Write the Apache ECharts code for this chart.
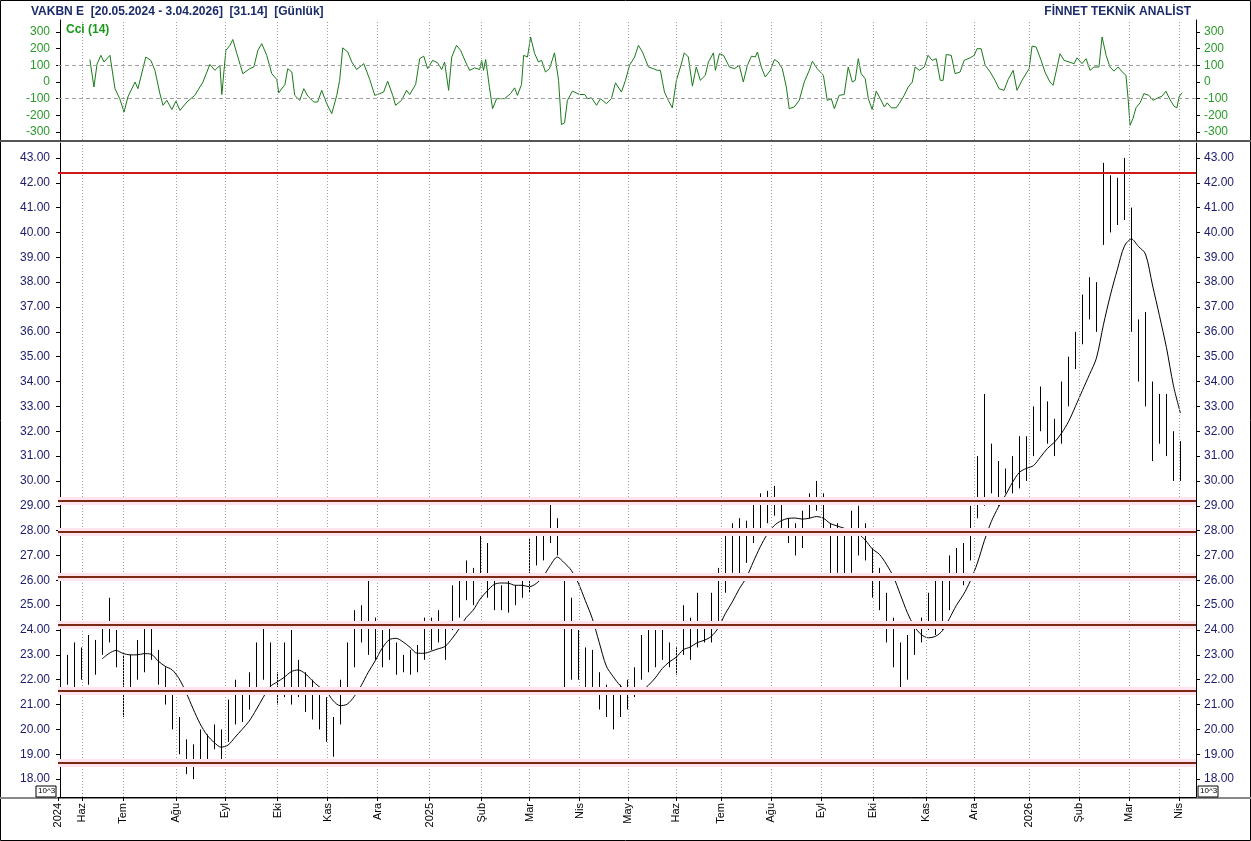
<!DOCTYPE html>
<html><head><meta charset="utf-8">
<script src="https://cdn.jsdelivr.net/npm/echarts@6/dist/echarts.min.js"></script>
<style>html,body{margin:0;padding:0;background:#fff}#c{width:1251px;height:841px}</style>
</head><body><div id="c"></div>
<script>
// ---- DATA ----
const title = 'VAKBN E  [20.05.2024 - 3.04.2026]  [31.14]  [Günlük]';
const brand = 'FİNNET TEKNİK ANALİST';
const barStepDays = 2.93; // bars sampled roughly every 3 trading days
const lows = [22.0,21.8,21.7,22.0,21.8,22.2,23.0,23.5,22.5,20.5,21.5,22.0,22.3,22.8,21.8,21.0,20.0,19.0,18.2,18.0,18.5,18.8,19.2,18.8,19.5,20.2,20.3,20.8,21.5,22.0,21.5,21.0,21.3,21.0,21.3,20.7,20.4,20.0,19.5,18.9,20.2,21.4,22.5,23.5,23.0,22.8,22.5,22.8,22.2,22.3,22.2,22.3,22.8,23.2,23.5,22.8,24.0,24.5,25.2,25.0,26.0,25.3,24.8,24.8,24.7,25.0,25.3,25.5,26.6,26.8,27.5,27.0,21.6,22.0,22.0,21.5,21.5,20.8,20.5,20.0,20.5,20.8,21.3,22.0,22.3,22.5,22.8,22.5,22.2,23.0,22.8,23.3,23.5,23.5,24.3,25.5,26.3,26.2,26.7,27.5,28.0,28.3,28.6,28.0,27.5,27.0,27.3,28.5,28.8,28.0,26.0,26.3,26.0,26.3,27.0,26.8,25.3,24.8,23.5,22.5,21.5,22.0,23.0,23.5,24.0,23.8,24.0,24.8,26.0,25.8,26.8,28.5,29.0,29.5,29.0,29.5,29.5,29.7,30.0,31.0,32.0,31.5,31.0,31.5,33.0,34.5,35.5,36.5,36.0,39.5,40.0,40.3,40.5,36.0,34.0,33.0,30.8,31.5,31.0,30.0,30.0];
const highs = [23.7,23.0,23.5,23.3,23.8,23.6,24.3,25.3,24.0,23.0,23.0,23.6,24.2,24.2,23.2,22.5,21.5,20.5,19.6,19.4,20.0,19.8,20.2,20.0,21.2,22.0,21.5,22.3,23.5,24.3,23.5,22.3,23.5,24.0,22.8,22.3,22.0,21.5,21.3,20.5,22.0,23.5,24.8,25.0,26.0,24.5,24.0,24.2,23.5,23.0,23.2,23.4,24.5,24.5,24.8,24.3,25.8,26.3,26.8,26.5,28.0,27.5,26.0,25.8,26.0,25.8,26.2,27.7,28.0,28.0,29.2,28.5,26.0,25.3,24.0,23.3,23.2,22.3,21.8,21.5,21.8,22.0,22.5,23.8,24.0,24.0,24.0,23.5,23.3,25.0,24.5,25.5,24.3,25.5,26.5,28.0,28.3,28.5,28.4,29.2,29.5,29.6,29.8,29.3,28.5,28.3,28.8,29.5,30.0,29.5,28.3,28.3,28.0,28.8,29.0,28.3,27.3,26.5,25.5,24.5,23.5,23.8,24.3,24.5,25.5,26.0,26.2,27.0,27.3,27.5,29.0,31.0,33.5,31.5,30.8,30.5,31.0,31.8,31.8,33.0,33.8,33.2,32.5,34.0,35.0,36.0,37.5,38.2,38.0,42.8,42.3,42.2,43.0,41.0,36.5,36.8,34.0,33.5,33.5,32.0,31.6];
const cciDay = [12.5,14.2,15.5,17.1,18.4,20.9,23,25,26.8,28.4,31.4,32.6,35.9,38,39.7,41.8,43.1,44.7,46.8,48.5,50.2,53.1,56.4,59.8,62.7,64.8,66.9,67.7,69.4,71.1,72.3,74,76.5,79.4,81.1,82.8,84.4,86.5,88.6,90.7,91.5,94.1,95.3,97,98.2,100.3,102,103.7,106.2,107.8,109.5,111.6,113.7,115.8,117,118.3,120.4,122.1,124.1,127.1,129.6,131.7,133.8,135.4,137.1,139.2,140.4,142.9,145,146.3,148.8,150.5,152.2,153.8,155.9,158,159.7,160.9,162.6,163.9,165.9,167.6,169.7,171.4,173.5,175.6,176.4,177.2,178.1,179.7,181,182.7,186,188.5,190.2,191.4,193.1,194,195.6,196.9,198.6,200.2,201.5,203.1,204.8,206.9,208.6,209.8,211.1,212.3,214.4,217.4,219.5,220.7,222.4,224.5,226.1,228.6,230.7,232.4,234.9,236.6,238.3,240.4,242,243.7,246.2,248.3,249.9,251.2,252.9,254.5,256.2,257.9,259.6,261.2,262.9,264.6,266.2,267.9,270,271.3,273.4,274.2,275.9,277.6,280.1,282.2,284.2,285.9,287.6,289.3,290.9,291.8,293.4,295.1,297.2,298.9,300.5,302.2,303.9,305.1,307.2,309.3,311.4,313.5,314.8,316.8,319.4,321,322.7,324,326,328.1,329.8,331.5,332.7,334,335.2,336.9,338.2,339.8,341.5,343.2,344.9,346.1,347.8,349.9,351.1,353.2,354.9,356.6,357.8,359.5,361.6,363.2,364.9,366.6,368.3,369.5,370.8,372.9,374.5,376.6,378.3,380.8,382.5,383.7,385.4,387.1,389.2,391.2,392.9,395,396.7,398.8,400.4,402.5,405.5,406.7,408.4,410.5,412.1,414.2,415.5,417.2,418.4,420.1,422.2,424.3,425.5,427.6,429.3,431,432.6,434.7,436,437.7,439.3,441,442.7,444.8,446,446.9,447.7,448.9,450.2,451.9,453.5,455.6,457.3,459.4,461.1,462.7,464.4,466.1,467.3,468.2,469.4];
const cciVal = [135,-30,108,160,120,160,-40,-100,-180,-90,0,-40,150,130,70,-70,-140,-110,-165,-115,-170,-120,-80,0,105,70,100,-75,190,220,255,170,50,80,90,190,230,160,50,15,-65,-15,80,60,-80,-110,-40,-85,-120,-120,-50,-130,-190,-80,10,205,180,120,75,110,15,-80,-70,-60,5,-80,-140,-110,-50,-75,-15,140,155,80,130,115,75,120,-50,150,220,190,120,70,85,75,130,70,135,-35,-160,-100,-100,-70,-35,-80,-15,160,150,270,170,120,130,60,80,175,10,-255,-245,-110,-55,-75,-75,-100,-95,-140,-100,-130,-100,-5,-60,10,100,150,220,180,90,80,70,70,-60,-110,-155,10,90,175,150,-25,90,10,40,120,175,70,170,160,90,80,100,0,100,155,150,180,90,30,70,135,120,80,-30,-160,-150,-110,0,70,125,80,40,-110,-100,-160,-80,-75,90,0,10,140,50,20,-100,-165,-55,-100,-150,-125,-155,-155,-130,-80,-30,0,90,70,90,160,130,140,10,10,165,160,50,60,130,145,160,200,200,100,60,10,-40,-50,15,70,-50,10,80,215,210,130,60,0,-20,90,170,130,120,110,145,110,140,70,90,90,270,160,90,65,90,55,40,-100,-260,-220,-155,-125,-70,-80,-110,-95,-85,-55,-105,-145,-155,-90,-65];
const monthDays = [-0.84,9.2,26.3,48.5,69,91.1,112,132.9,154.7,176.4,196.5,217.4,237.8,257.9,276.7,297.6,318.5,340.3,362.4,382.5,405.5,426.4,447.3,468.2];
const monthNames = ['2024','Haz','Tem','Ağu','Eyl','Eki','Kas','Ara','2025','Şub','Mar','Nis','May','Haz','Tem','Ağu','Eyl','Eki','Kas','Ara','2026','Şub','Mar','Nis'];
const levelRed = [42.4];
const levels = [29.2,27.95,26.15,24.2,21.55,18.65];
const priceTicks = [18,19,20,21,22,23,24,25,26,27,28,29,30,31,32,33,34,35,36,37,38,39,40,41,42,43];
const cciTicks = [-300,-200,-100,0,100,200,300];
const maLen = 7;

// ---- BUILD ----
const bars = lows.map((l,i)=>[i*barStepDays, l, highs[i]]);
const ma = [];
for (let i=maLen-1;i<lows.length;i++){let s=0;for(let j=i-maLen+1;j<=i;j++)s+=(lows[j]+highs[j])/2;ma.push([i*barStepDays - barStepDays*0, +(s/maLen).toFixed(3)]);}
const cci = cciDay.map((d,i)=>[d,cciVal[i]]);
const XMIN=-0.84, XMAX=475.3;
const vlines = monthDays.slice(1).map(d=>({xAxis:d}));
const vml = {silent:true,symbol:'none',label:{show:false},lineStyle:{color:'#a0a0a0',type:[1,2],width:1},data:vlines};

const chart = echarts.init(document.getElementById('c'),null,{renderer:'canvas'});
const axisFont = {fontFamily:'Liberation Sans',fontSize:12};
chart.setOption({
  animation:false,
  backgroundColor:'#fff',
  grid:[{left:58,right:55,top:20,height:120},{left:58,right:55,top:143,bottom:44}],
  title:[
    {text:title,left:26,top:1,textStyle:{fontFamily:'Liberation Sans',fontSize:12,fontWeight:'bold',color:'#1a2a6a'}},
    {text:brand,right:55,top:1,textStyle:{fontFamily:'Liberation Sans',fontSize:12,fontWeight:'bold',color:'#1a2a6a'}},
    {text:'Cci (14)',left:61,top:19,textStyle:{fontFamily:'Liberation Sans',fontSize:12,fontWeight:'bold',color:'#1a9a1a'}}
  ],
  xAxis:[
    {gridIndex:0,type:'value',min:XMIN,max:XMAX,axisLine:{show:false},axisTick:{show:false},axisLabel:{show:false},splitLine:{show:false}},
    {gridIndex:1,type:'value',min:XMIN,max:XMAX,position:'bottom',
     axisLine:{show:true,lineStyle:{color:'#000',width:1}},
     axisTick:{show:true,customValues:monthDays,length:4,lineStyle:{color:'#000'}},
     axisLabel:{show:true,customValues:monthDays,rotate:90,color:'#000',...axisFont,fontSize:11,margin:6,
       formatter:v=>{let i=monthDays.indexOf(v);return i>=0?monthNames[i]:'';}},
     splitLine:{show:false}}
  ],
  yAxis:[
    {gridIndex:0,type:'value',min:-348,max:372,position:'left',axisLine:{show:true,lineStyle:{color:'#000'}},
     axisTick:{show:true,customValues:cciTicks,length:4,lineStyle:{color:'#000'}},
     axisLabel:{customValues:cciTicks,color:'#2a9a2a',...axisFont},splitLine:{show:false}},
    {gridIndex:0,type:'value',min:-348,max:372,position:'right',axisLine:{show:true,lineStyle:{color:'#000'}},
     axisTick:{show:true,customValues:cciTicks,length:4,lineStyle:{color:'#000'}},
     axisLabel:{customValues:cciTicks,color:'#2a9a2a',...axisFont},splitLine:{show:false}},
    {gridIndex:1,type:'value',min:17.28,max:43.6,position:'left',axisLine:{show:true,lineStyle:{color:'#000'}},
     axisTick:{show:true,customValues:priceTicks,length:4,lineStyle:{color:'#000'}},
     axisLabel:{customValues:priceTicks,color:'#1a1a6e',...axisFont,formatter:v=>v.toFixed(2)},splitLine:{show:false}},
    {gridIndex:1,type:'value',min:17.28,max:43.6,position:'right',axisLine:{show:true,lineStyle:{color:'#000'}},
     axisTick:{show:true,customValues:priceTicks,length:4,lineStyle:{color:'#000'}},
     axisLabel:{customValues:priceTicks,color:'#1a1a6e',...axisFont,formatter:v=>v.toFixed(2)},splitLine:{show:false}}
  ],
  series:[
    {type:'line',xAxisIndex:0,yAxisIndex:0,data:cci,showSymbol:false,lineStyle:{color:'#1a7a1a',width:1},
     markLine:{silent:true,symbol:'none',label:{show:false},lineStyle:{color:'#a0a0a0',type:[4,3],width:1},
       data:[{yAxis:100},{yAxis:-100},...vlines.map(v=>({xAxis:v.xAxis,lineStyle:{type:[1,2]}}))]}},
    {type:'custom',xAxisIndex:1,yAxisIndex:2,data:bars,
     renderItem:(p,api)=>{const a=api.coord([api.value(0),api.value(1)]);const b=api.coord([api.value(0),api.value(2)]);
       return {type:'line',shape:{x1:Math.round(a[0])+0.5,y1:a[1],x2:Math.round(b[0])+0.5,y2:b[1]},style:{stroke:'#000',lineWidth:1}};},
     markLine:{silent:true,symbol:'none',label:{show:false},data:[
       ...vlines.map(v=>({xAxis:v.xAxis,lineStyle:{color:'#a0a0a0',type:[1,2],width:1}})),
       ...levels.map(v=>({yAxis:v,lineStyle:{color:'#fde4ef',width:8,type:'solid'}})),
       ...levels.map(v=>({yAxis:v,lineStyle:{color:'#7a2a12',width:2,type:'solid'}})),
       ...levelRed.map(v=>({yAxis:v,lineStyle:{color:'#d01818',width:2,type:'solid'}}))
     ]}},
    {type:'line',xAxisIndex:1,yAxisIndex:2,data:ma,showSymbol:false,smooth:0.3,lineStyle:{color:'#000',width:1}}
  ],
  graphic:[
    {type:'rect',shape:{x:0.5,y:0.5,width:1250,height:840},style:{fill:null,stroke:'#000',lineWidth:1},silent:true},
    {type:'line',shape:{x1:0,y1:141,x2:1251,y2:141},style:{stroke:'#555',lineWidth:2},silent:true},
    {type:'line',shape:{x1:0,y1:798,x2:1251,y2:798},style:{stroke:'#888',lineWidth:2},silent:true},
    {type:'rect',shape:{x:36,y:786,width:20,height:11},style:{fill:'#fff',stroke:'#000',lineWidth:1},silent:true},
    {type:'text',x:38,y:787,style:{text:'10^3',font:'8px Liberation Sans',fill:'#000'},silent:true},
    {type:'rect',shape:{x:1198,y:786,width:20,height:11},style:{fill:'#fff',stroke:'#000',lineWidth:1},silent:true},
    {type:'text',x:1200,y:787,style:{text:'10^3',font:'8px Liberation Sans',fill:'#000'},silent:true}
  ]
});
</script></body></html>
